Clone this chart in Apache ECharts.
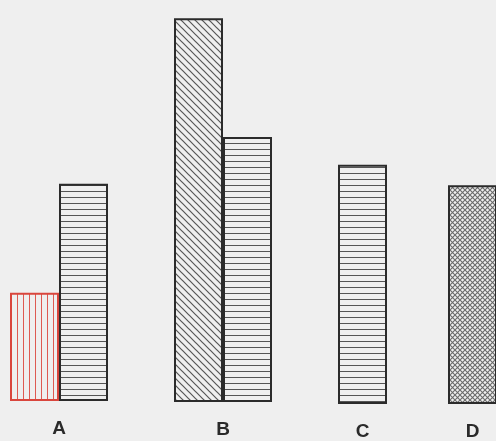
<!DOCTYPE html>
<html>
<head>
<meta charset="utf-8">
<script src="https://cdn.jsdelivr.net/npm/echarts@6/dist/echarts.min.js"></script>
<style>
  html, body { margin: 0; padding: 0; background: #efefef; }
  #chart { width: 496px; height: 441px; }
</style>
</head>
<body>
<div id="chart"></div>
<script>
  var categories = ['A', 'B', 'C', 'D'];
  // bar heights (B hatched bar ~ 100)
  var redValues      = [28.1, null, null, null];
  var diagonalValues = [null, 99.7, null, null];
  var crossValues    = [null, null, null, 57.1];
  var stripedValues  = [56.4, 68.8, 62.3, null];

  var bg = '#efefef';

  // small canvas tiles used as fill patterns
  function makeTile(w, h, draw) {
    var c = document.createElement('canvas');
    c.width = w; c.height = h;
    var ctx = c.getContext('2d');
    ctx.fillStyle = bg;
    ctx.fillRect(0, 0, w, h);
    draw(ctx);
    return { image: c, repeat: 'repeat' };
  }
  var horizPattern = makeTile(8, 6, function (ctx) {
    ctx.fillStyle = '#555';
    ctx.fillRect(0, 5, 8, 1);
  });
  var vertRedPattern = makeTile(6, 8, function (ctx) {
    ctx.fillStyle = '#de5a52';
    ctx.fillRect(5, 0, 1, 8);
  });
  var diagPattern = makeTile(7, 7, function (ctx) {
    ctx.strokeStyle = '#555';
    ctx.lineWidth = 1.2;
    ctx.beginPath();
    ctx.moveTo(-1, -1); ctx.lineTo(8, 8);
    ctx.moveTo(-8, -1); ctx.lineTo(1, 8);
    ctx.moveTo(6, -1); ctx.lineTo(15, 8);
    ctx.stroke();
  });
  var crossPattern = makeTile(5, 5, function (ctx) {
    ctx.strokeStyle = '#6a6a6a';
    ctx.lineWidth = 1.1;
    ctx.beginPath();
    ctx.moveTo(-1, -1); ctx.lineTo(6, 6);
    ctx.moveTo(6, -1); ctx.lineTo(-1, 6);
    ctx.stroke();
  });

  // one grid per category (scan is a bit skewed, so baselines differ)
  var grids = [
    { left: 10, width: 98, top: 16, bottom: 40 },
    { left: 174, width: 98, top: 17, bottom: 39 },
    { left: 338, width: 49, top: 20, bottom: 36 },
    { left: 449, width: 50, top: 21, bottom: 35 }
  ];

  var xAxes = [], yAxes = [];
  grids.forEach(function (g, i) {
    xAxes.push({
      type: 'category',
      gridIndex: i,
      data: [categories[i]],
      axisLine: { show: false },
      axisTick: { show: false },
      axisLabel: {
        margin: 18,
        fontSize: 19,
        fontWeight: 'bold',
        fontFamily: 'Liberation Sans Narrow, Liberation Sans, sans-serif',
        color: '#2a2a2a'
      }
    });
    yAxes.push({ type: 'value', gridIndex: i, min: 0, max: 100, show: false });
  });

  var groups = [
    { values: redValues, fill: vertRedPattern, border: '#d9463d' },
    { values: diagonalValues, fill: diagPattern, border: '#2b2b2b' },
    { values: crossValues, fill: crossPattern, border: '#2b2b2b' },
    { values: stripedValues, fill: horizPattern, border: '#2b2b2b' }
  ];
  var series = [];
  groups.forEach(function (grp) {
    grp.values.forEach(function (v, i) {
      if (v == null) return;
      series.push({
        type: 'bar',
        xAxisIndex: i,
        yAxisIndex: i,
        data: [v],
        barWidth: 49,
        barGap: '0%',
        itemStyle: { color: grp.fill, borderColor: grp.border, borderWidth: 2 }
      });
    });
  });

  var myChart = echarts.init(document.getElementById('chart'));
  myChart.setOption({
    backgroundColor: bg,
    animation: false,
    grid: grids,
    xAxis: xAxes,
    yAxis: yAxes,
    series: series
  });
</script>
</body>
</html>
